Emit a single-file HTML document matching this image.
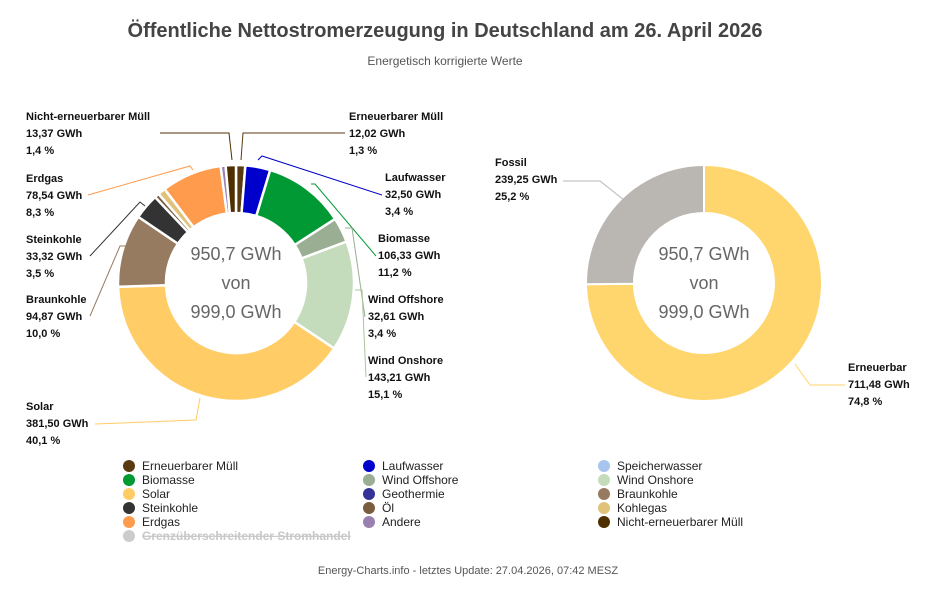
<!DOCTYPE html>
<html><head><meta charset="utf-8"><style>
body{margin:0;background:#fff;width:936px;height:592px;overflow:hidden;font-family:"Liberation Sans",sans-serif}
svg text{font-family:"Liberation Sans",sans-serif}
.lb{font-size:11px;font-weight:bold;fill:#111}
.lg{font-size:12px;fill:#222}
</style></head><body>
<svg width="936" height="592">
<text x="445" y="37" text-anchor="middle" font-size="20" font-weight="bold" fill="#444">Öffentliche Nettostromerzeugung in Deutschland am 26. April 2026</text>
<text x="445" y="65" text-anchor="middle" font-size="12" fill="#555">Energetisch korrigierte Werte</text>
<g id="left"></g>
<g id="right"></g>
<g id="labels"></g>
<g id="legend"></g>
<text x="468" y="574" text-anchor="middle" font-size="11" fill="#555">Energy-Charts.info - letztes Update: 27.04.2026, 07:42 MESZ</text>
</svg>
<script>
const sources=["Erneuerbarer Müll","Laufwasser","Speicherwasser","Biomasse","Wind Offshore","Wind Onshore","Solar","Geothermie","Braunkohle","Steinkohle","Öl","Kohlegas","Erdgas","Andere","Nicht-erneuerbarer Müll"];
const values=[12.02,32.50,0,106.33,32.61,143.21,381.50,0,94.87,33.32,6,10,78.54,6.4,13.37];
const colors=["#5a3a10","#0000cc","#a8c4f0","#009933","#9aae94","#c5dcbc","#ffcc66","#333399","#977b61","#333333","#7a5c3e","#e0c27a","#ff9b4d","#9a80b0","#4d2f00"];
const groups=["Erneuerbar","Fossil"];
const groupValues=[711.48,239.25];
const groupColors=["#ffd66e","#bab6b2"];
const NS="http://www.w3.org/2000/svg";
function mk(t,a,p){const e=document.createElementNS(NS,t);for(const k in a)e.setAttribute(k,a[k]);p.appendChild(e);return e;}
function arc(cx,cy,r0,r1,a0,a1){const p=(r,a)=>[cx+r*Math.sin(a),cy-r*Math.cos(a)];const l=a1-a0>Math.PI?1:0;
const [x1,y1]=p(r1,a0),[x2,y2]=p(r1,a1),[x3,y3]=p(r0,a1),[x4,y4]=p(r0,a0);
return `M${x1},${y1}A${r1},${r1} 0 ${l} 1 ${x2},${y2}L${x3},${y3}A${r0},${r0} 0 ${l} 0 ${x4},${y4}Z`;}
function donut(g,vals,cols,names,cx,cy,sw){const tot=vals.reduce((a,b)=>a+b,0);let a=0;
vals.forEach((v,i)=>{const a1=a+v/tot*2*Math.PI;if(v>0){const e=mk('path',{d:arc(cx,cy,70,118,a,a1),fill:cols[i],stroke:'#fff','stroke-width':sw},g);

}a=a1;});
const t=[tot.toFixed(1).replace('.',',')+" GWh","von","999,0 GWh"];
t.forEach((s,i)=>{const e=mk('text',{x:cx,y:cy-23+i*29,'text-anchor':'middle','font-size':18,fill:'#666'},g);e.textContent=s;

});}
donut(document.getElementById('left'),values,colors,sources,236,283,2.5);
donut(document.getElementById('right'),groupValues,groupColors,groups,704,283,2);
const L=document.getElementById('labels');
const labs=[[26,116,"Nicht-erneuerbarer Müll","13,37 GWh","1,4 %"],[26,178,"Erdgas","78,54 GWh","8,3 %"],[26,239,"Steinkohle","33,32 GWh","3,5 %"],[26,299,"Braunkohle","94,87 GWh","10,0 %"],[26,406,"Solar","381,50 GWh","40,1 %"],
[349,116,"Erneuerbarer Müll","12,02 GWh","1,3 %"],[385,177,"Laufwasser","32,50 GWh","3,4 %"],[378,238,"Biomasse","106,33 GWh","11,2 %"],[368,299,"Wind Offshore","32,61 GWh","3,4 %"],[368,360,"Wind Onshore","143,21 GWh","15,1 %"],
[495,162,"Fossil","239,25 GWh","25,2 %"],[848,367,"Erneuerbar","711,48 GWh","74,8 %"]];
labs.forEach(l=>{for(let i=0;i<3;i++){const e=mk('text',{x:l[0],y:l[1]+4+i*17,class:'lb'},L);e.textContent=l[2+i];

}});
const lines=[["160,133 229,133 232,160","#4d2f00"],["345,133 243,133 241,160","#5a3a10"],["258,160 262,156 382,195","#0000cc"],["311,184 315,184 376,256","#009933"],["345,228 352,228 365,317","#9aae94"],["355,290 362,290 366,377","#aac4a0"],["200,398 196,420 95,424","#ffcc66"],["126,246 120,246 90,316","#977b61"],["145,206 140,202 90,256","#333"],["193,170 190,166 88,195","#ff9b4d"],["563,181 600,181 624,200","#bab6b2"],["845,385 810,385 795,364","#ffd66e"]];
lines.forEach(l=>{const e=mk('polyline',{points:l[0],fill:'none',stroke:l[1],'stroke-width':1},L);

});
const G=document.getElementById('legend');
const cols=[123,363,598];
const items=sources.map((s,i)=>[s,colors[i]]);items.push(["Grenzüberschreitender Stromhandel","#ccc"]);
items.forEach((it,i)=>{const c=i%3,r=Math.floor(i/3);const x=cols[c],y=466+r*14;
const g=mk('g',{},G);

mk('circle',{cx:x+6,cy:y,r:6,fill:it[1]},g);
const t=mk('text',{x:x+19,y:y+4,class:'lg'},g);t.textContent=it[0];
if(i==15){t.setAttribute('style','fill:#c8c8c8;font-weight:bold;text-decoration:line-through');}});
</script>
</body></html>
